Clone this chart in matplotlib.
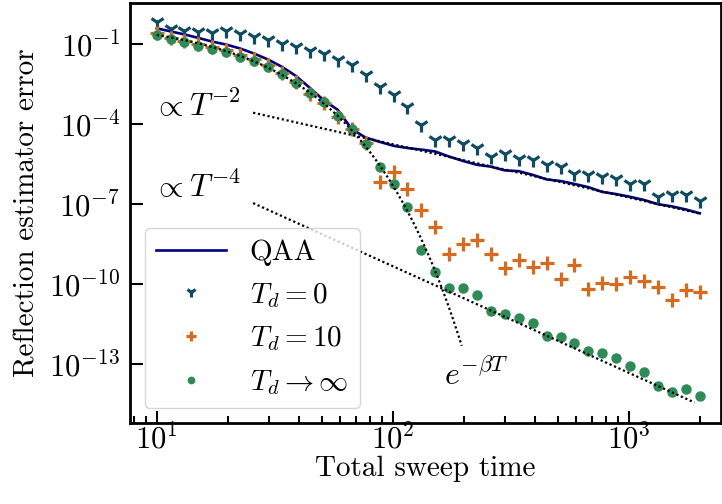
import numpy as np
import matplotlib
matplotlib.use('Agg')
import matplotlib.pyplot as plt
from matplotlib.ticker import NullLocator

# total sweep time grid shared by all series
sweep_time = [10, 11.5, 13.1, 15.0, 17.2, 19.7, 22.6, 25.9, 29.6, 34.0,
              38.9, 44.6, 51.0, 58.5, 67.0, 76.7, 87.9, 101, 115, 132,
              151, 173, 199, 227, 260, 298, 342, 392, 449, 514,
              589, 674, 772, 885, 1010, 1160, 1330, 1520, 1750, 2000]

# log10 of the reflection estimator error
qaa_log = [-0.40, -0.52, -0.63, -0.76, -0.90, -1.01, -1.16, -1.35, -1.57, -1.85,
           -2.19, -2.64, -3.10, -3.46, -4.18, -4.50, -4.66, -4.81, -4.89, -4.95,
           -5.02, -5.21, -5.38, -5.52, -5.59, -5.73, -5.76, -5.90, -6.07, -6.13,
           -6.24, -6.36, -6.54, -6.62, -6.72, -6.84, -7.00, -7.08, -7.20, -7.34]
td0_log = [-0.16, -0.42, -0.51, -0.55, -0.57, -0.49, -0.60, -0.73, -0.82, -0.98,
           -1.10, -1.25, -1.35, -1.60, -1.79, -2.17, -2.60, -2.92, -3.35, -4.01,
           -4.60, -4.60, -4.73, -4.89, -5.23, -5.10, -5.29, -5.35, -5.54, -5.60,
           -5.85, -5.91, -5.97, -6.04, -6.23, -6.23, -6.72, -6.64, -6.64, -6.89]
td10_log = [-0.59, -0.75, -0.87, -0.99, -1.11, -1.22, -1.41, -1.56, -1.78, -2.06,
            -2.40, -2.86, -3.20, -3.72, -4.18, -4.70, -6.15, -5.78, -6.44, -7.21,
            -7.84, -8.87, -8.49, -8.36, -8.86, -9.40, -9.09, -9.36, -9.19, -9.81,
            -9.28, -10.18, -9.96, -9.99, -9.74, -9.90, -10.09, -10.59, -10.21, -10.31]
tdinf_log = [-0.65, -0.81, -0.93, -1.05, -1.17, -1.28, -1.47, -1.62, -1.84, -2.11,
             -2.46, -2.84, -3.15, -3.68, -4.19, -4.74, -5.60, -6.25, -7.11, -8.71,
             -9.55, -10.16, -10.13, -10.39, -11.00, -11.11, -11.27, -11.44, -11.95, -11.99,
             -12.21, -12.51, -12.59, -12.76, -13.06, -13.28, -13.84, -14.05, -13.92, -14.21]

# guide lines: A*exp(-beta*T), C2*T^-2, C4*T^-4
exp_amp, exp_beta, exp_range = 0.95, 0.1444, (10, 196)
p2_coef, p2_range = 10 ** -0.75, (25.6, 2000)
p4_coef, p4_range = 10 ** -1.326, (25.6, 1900)

y_ticks = [1e-1, 1e-4, 1e-7, 1e-10, 1e-13]

plt.rcParams['font.family'] = 'serif'
plt.rcParams['font.serif'] = ['cmr10']
plt.rcParams['mathtext.fontset'] = 'cm'
plt.rcParams['axes.formatter.use_mathtext'] = True
plt.rcParams['font.size'] = 21

fig = plt.figure(figsize=(7.22, 5.04), dpi=100)
ax = fig.add_axes([130 / 722, 81 / 504, 591 / 722, 420 / 504])

T = np.array(sweep_time)
ax.plot(T, 10.0 ** np.array(qaa_log), color='navy', lw=1.9, label='QAA', zorder=2)
ax.plot(T, 10.0 ** np.array(td0_log), ls='none', marker='1', ms=10.5, mew=2.3,
        color='#0f4b61', label=r'$T_d = 0$', zorder=3)
ax.plot(T, 10.0 ** np.array(td10_log), ls='none', marker='+', ms=9.5, mew=2.3,
        color='#d66a1f', label=r'$T_d = 10$', zorder=3)
ax.plot(T, 10.0 ** np.array(tdinf_log), ls='none', marker='o', ms=6.5,
        color='#2e8b57', label=r'$T_d \to \infty$', zorder=3)

dots = (0, (1, 1.2))
t_exp = np.linspace(*exp_range, 300)
ax.plot(t_exp, exp_amp * np.exp(-exp_beta * t_exp), color='k', ls=dots, lw=1.6, zorder=4)
t_p2 = np.geomspace(*p2_range, 200)
ax.plot(t_p2, p2_coef * t_p2 ** -2, color='k', ls=dots, lw=1.6, zorder=4)
t_p4 = np.geomspace(*p4_range, 200)
ax.plot(t_p4, p4_coef * t_p4 ** -4, color='k', ls=dots, lw=1.6, zorder=4)

ax.text(9.6, 10 ** -3.3, r'$\propto T^{-2}$', ha='left', va='center', fontsize=23)
ax.text(9.6, 10 ** -6.35, r'$\propto T^{-4}$', ha='left', va='center', fontsize=23)
ax.text(165, 10 ** -13.4, r'$e^{-\beta T}$', ha='left', va='center', fontsize=23)

ax.set_xscale('log')
ax.set_yscale('log')
ax.set_xlim(7.7, 2460)
ax.set_ylim(10 ** -15.21, 10 ** 0.55)
ax.set_yticks(y_ticks)
ax.yaxis.set_minor_locator(NullLocator())

ax.tick_params(which='both', direction='in', width=1.5, labelsize=22)
ax.tick_params(which='major', length=9)
ax.tick_params(which='minor', length=5)
ax.tick_params(axis='y', pad=7)
ax.tick_params(axis='x', pad=1)
for s in ax.spines.values():
    s.set_linewidth(2)

ax.set_xlabel('Total sweep time', labelpad=0)
ax.set_ylabel('Reflection estimator error', labelpad=6)

ax.legend(loc='lower left', fontsize=21, markerscale=0.7, handlelength=2.4)

fig.savefig('out.png', dpi=100)
